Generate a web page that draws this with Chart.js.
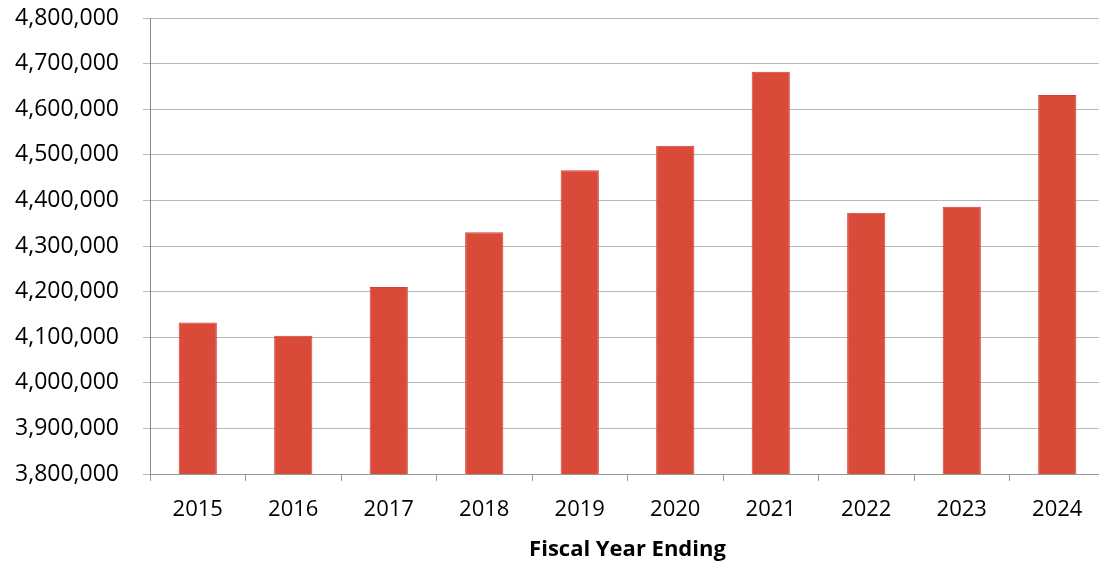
<!DOCTYPE html>
<html>
<head>
<meta charset="utf-8">
<script src="https://cdn.jsdelivr.net/npm/chart.js"></script>
<style>
  html, body { margin: 0; padding: 0; background: #fff; overflow: hidden; }
  #wrap { width: 1105px; height: 567px; position: relative; }
</style>
</head>
<body>
<div id="wrap"><canvas id="fiscal-chart"></canvas></div>
<script>
// Values
const years = ['2015', '2016', '2017', '2018', '2019', '2020', '2021', '2022', '2023', '2024'];
const totals = [4132000, 4103000, 4210000, 4330000, 4466000, 4520000, 4682000, 4373000, 4386000, 4631000];
const yMin = 3800000;
const yMax = 4800000;
const yStep = 100000;

const labelFont = { family: "'Open Sans', sans-serif", size: 23 };

const ctx = document.getElementById('fiscal-chart').getContext('2d');
const fiscalChart = new Chart(ctx, {
    type: 'bar',
    data: {
        labels: years,
        datasets: [{
            data: totals,
            backgroundColor: '#d94a39',
            borderColor: '#d04331',
            borderWidth: 1,
            barPercentage: 0.4,
            categoryPercentage: 1.0
        }]
    },
    options: {
        responsive: true,
        maintainAspectRatio: false,
        animation: false,
        layout: { padding: { top: 18, right: 0, left: 0, bottom: 0 } },
        scales: {
            x: {
                grid: {
                    display: true,
                    drawOnChartArea: false,
                    drawTicks: true,
                    tickLength: 7,
                    color: '#999'
                },
                border: { display: true, color: '#999' },
                ticks: { color: '#000', font: { family: "'Open Sans', sans-serif", size: 22 }, padding: 16 },
                title: {
                    display: true,
                    text: 'Fiscal Year Ending',
                    color: '#000',
                    font: { family: "'Open Sans', sans-serif", size: 22, weight: 'bold' },
                    padding: { top: 8, bottom: 4 }
                },
                afterFit: function(scale) { scale.height = 93; }
            },
            y: {
                min: yMin,
                max: yMax,
                grid: {
                    color: '#b8b8b8',
                    tickLength: 7
                },
                border: { display: true, color: '#888' },
                ticks: {
                    stepSize: yStep,
                    color: '#000',
                    font: labelFont,
                    padding: 24,
                    callback: function(value) {
                        return value.toLocaleString('en-US');
                    }
                },
                afterFit: function(scale) {
                    scale.width = 150;
                    scale.paddingTop = 0;
                    scale.paddingBottom = 0;
                }
            }
        },
        plugins: {
            legend: { display: false },
            tooltip: { enabled: false }
        }
    }
});
</script>
</body>
</html>
